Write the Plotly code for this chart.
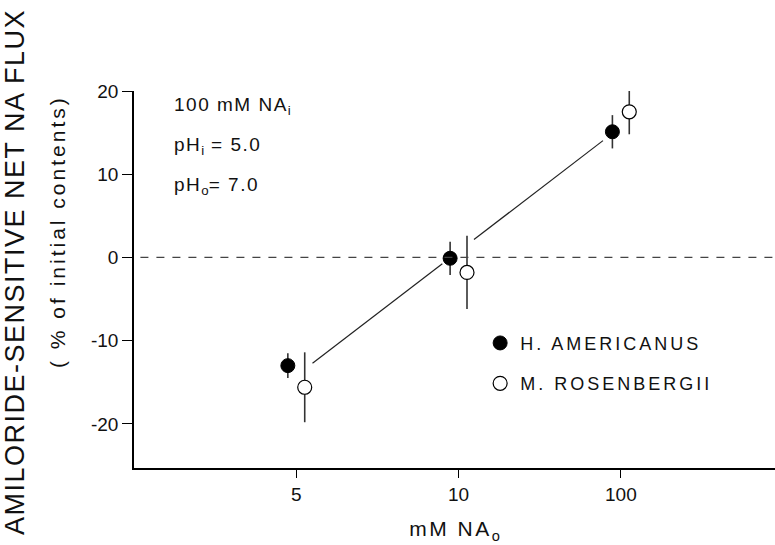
import plotly.graph_objects as go

# ---- data ----
categories = ["5", "10", "100"]           # mM NA_o (equally spaced categories)
amer_vals = [-13.0, -0.1, 15.1]           # H. AMERICANUS
amer_err = [1.5, 2.0, 2.0]
rosen_vals = [-15.6, -1.8, 17.5]          # M. ROSENBERGII
rosen_err = [4.2, 4.4, 2.7]
fit_slope = 14.94                         # per category step
fit_at_first = -14.2                      # fitted value at first category
y_ticks = [-20, -10, 0, 10, 20]

pos = list(range(1, len(categories) + 1))
off = 0.052
amer_x = [p - off for p in pos]
rosen_x = [p + off for p in pos]

FONT = "Liberation Sans, Arial, sans-serif"


def spaced(t, px):
    return f'<span style="letter-spacing:{px}px">{t}</span>'


fig = go.Figure()

# fit line drawn in two segments (broken around the middle points)
segs = [(pos[0] + 0.1, pos[1] - 0.1), (pos[1] + 0.095, pos[2] - 0.11)]
for a, b in segs:
    xs = [a, b]
    ys = [fit_at_first + fit_slope * (x - pos[0]) for x in xs]
    fig.add_trace(go.Scatter(x=xs, y=ys, mode="lines",
                             line=dict(color="#222", width=1.2),
                             showlegend=False, hoverinfo="skip", cliponaxis=False))

fig.add_trace(go.Scatter(
    x=amer_x, y=amer_vals, mode="markers", name=spaced("H. AMERICANUS", 3),
    legendgroup="a",
    marker=dict(symbol="circle", size=14, color="black",
                line=dict(color="black", width=1)),
    error_y=dict(type="data", array=amer_err, width=0, thickness=1.6, color="#333"),
    cliponaxis=False))
fig.add_trace(go.Scatter(
    x=rosen_x, y=rosen_vals, mode="markers", name=spaced("M. ROSENBERGII", 3),
    legendgroup="b",
    marker=dict(symbol="circle", size=14, color="white",
                line=dict(color="black", width=1.2)),
    error_y=dict(type="data", array=rosen_err, width=0, thickness=1.6, color="#333"),
    cliponaxis=False))

fig.add_shape(type="line", xref="paper", yref="y", x0=0.01, x1=1, y0=0, y1=0,
              line=dict(color="#444", width=1.3, dash="8px,8px"))

annots = [
    dict(text=spaced("100 mM NA", 1.5) + "<sub>i</sub>", x=172, y=106),
    dict(text=spaced("pH", 1.5) + "<sub>i</sub>" + spaced(" = 5.0", 1.5), x=172, y=146),
    dict(text=spaced("pH", 1.5) + "<sub>o</sub>" + spaced("= 7.0", 1.5), x=172, y=186),
]

fig.update_layout(
    width=775, height=545,
    margin=dict(l=134, r=0, t=91, b=77),
    paper_bgcolor="white", plot_bgcolor="white",
    font=dict(family=FONT, color="#111", size=18),
    xaxis=dict(range=[0, 3.95], tickmode="array", tickvals=pos, ticktext=categories,
               showline=True, linecolor="black", linewidth=1.5,
               ticks="outside", ticklen=8, tickcolor="black", tickwidth=1.2,
               showgrid=False, zeroline=False,
               tickfont=dict(size=19, family=FONT),
               title=dict(text=spaced("mM NA", 2.5) + "<sub>o</sub>",
                          font=dict(size=21, family=FONT), standoff=18)),
    yaxis=dict(range=[-25.3, 20], tickmode="array", tickvals=y_ticks,
               ticktext=[str(v) for v in y_ticks],
               showline=True, linecolor="black", linewidth=1.5,
               ticks="outside", ticklen=10, tickcolor="black", tickwidth=1.2,
               showgrid=False, zeroline=False,
               tickfont=dict(size=19, family=FONT)),
    legend=dict(x=0.54, y=0.38, xanchor="left", yanchor="top",
                font=dict(size=18, family=FONT), tracegroupgap=14,
                bgcolor="rgba(0,0,0,0)", itemwidth=30),
    showlegend=True,
)

for a in annots:
    fig.add_annotation(text=a["text"], xref="paper", yref="paper",
                       x=(a["x"] - 134) / 641, y=1 - (a["y"] - 91) / 377,
                       xanchor="left", yanchor="middle", showarrow=False,
                       font=dict(size=19, family=FONT))

# y-axis title (two lines)
fig.add_annotation(text=spaced("AMILORIDE-SENSITIVE NET NA FLUX", 1.5),
                   xref="paper", yref="paper",
                   x=(15 - 134) / 641, y=1 - (272 - 91) / 377, textangle=-90,
                   showarrow=False, xanchor="center", yanchor="middle",
                   font=dict(size=27, family=FONT))
fig.add_annotation(text=spaced("( % of initial contents)", 3),
                   xref="paper", yref="paper",
                   x=(57 - 134) / 641, y=1 - (232 - 91) / 377, textangle=-90,
                   showarrow=False, xanchor="center", yanchor="middle",
                   font=dict(size=21, family=FONT))

fig.write_html("out.html")
